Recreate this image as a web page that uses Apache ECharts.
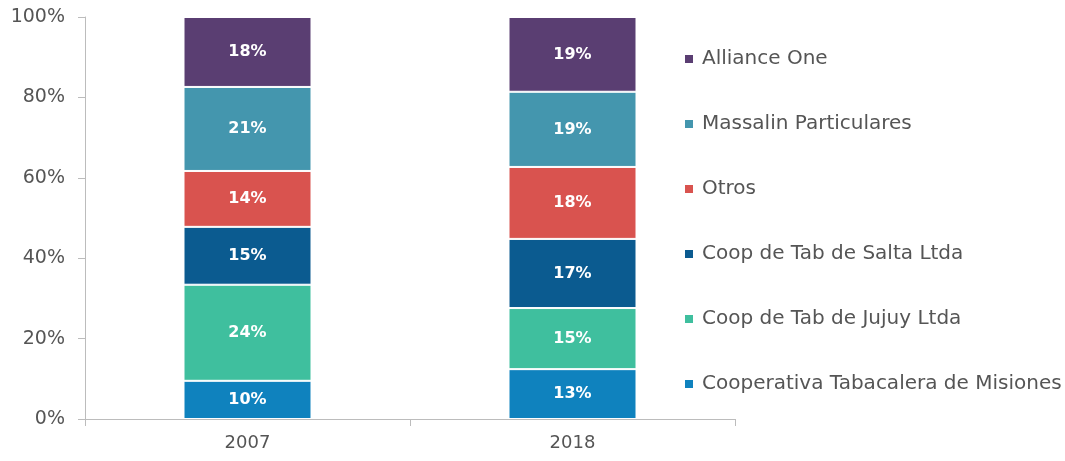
<!DOCTYPE html>
<html>
<head>
<meta charset="utf-8">
<script src="https://cdn.jsdelivr.net/npm/echarts@6/dist/echarts.min.js"></script>
<style>
  html, body { margin: 0; padding: 0; background: #fff; }
  #chart { width: 1065px; height: 461px; }
</style>
</head>
<body>
<div id="chart"></div>
<script>
// años
const years = ['2007', '2018']

// participación (%) por empresa, de abajo hacia arriba
const misiones = [9.5, 12.4]
const jujuy = [23.9, 15.2]
const salta = [14.4, 17.2]
const otros = [13.9, 17.9]
const massalin = [20.9, 18.7]
const alliance = [17.4, 18.6]

// etiquetas tal como aparecen en el gráfico
const misionesLabels = ['10%', '13%']
const jujuyLabels = ['24%', '15%']
const saltaLabels = ['15%', '17%']
const otrosLabels = ['14%', '18%']
const massalinLabels = ['21%', '19%']
const allianceLabels = ['18%', '19%']

const yTicks = [0, 20, 40, 60, 80, 100]

const stacks = [
  { name: 'Cooperativa Tabacalera de Misiones', data: misiones, labels: misionesLabels, color: '#0f82be' },
  { name: 'Coop de Tab de Jujuy Ltda', data: jujuy, labels: jujuyLabels, color: '#3fbf9e' },
  { name: 'Coop de Tab de Salta Ltda', data: salta, labels: saltaLabels, color: '#0b5b90' },
  { name: 'Otros', data: otros, labels: otrosLabels, color: '#d9534f' },
  { name: 'Massalin Particulares', data: massalin, labels: massalinLabels, color: '#4496ae' },
  { name: 'Alliance One', data: alliance, labels: allianceLabels, color: '#5a3e72' }
]

const font = '"DejaVu Sans", Roboto, sans-serif'

const chart = echarts.init(document.getElementById('chart'), null, { renderer: 'canvas' })

const option = {
  animation: false,
  textStyle: { fontFamily: font },
  grid: { left: 85, right: 330, top: 17, bottom: 42 },
  legend: {
    orient: 'vertical',
    left: 678,
    top: 44,
    itemGap: 45,
    itemWidth: 10,
    itemHeight: 10,
    icon: 'rect',
    data: stacks.map(s => s.name).reverse(),
    textStyle: { fontFamily: font, fontSize: 20, color: '#555', padding: [0, 0, 0, 3] }
  },
  xAxis: {
    type: 'category',
    data: years,
    axisLine: { lineStyle: { color: '#bcbcbc', width: 1 } },
    axisTick: { show: true, length: 7, lineStyle: { color: '#bcbcbc' } },
    axisLabel: { fontSize: 18, color: '#555', margin: 15, fontFamily: font }
  },
  yAxis: {
    type: 'value',
    min: yTicks[0],
    max: yTicks[yTicks.length - 1],
    interval: 20,
    axisLine: { show: true, lineStyle: { color: '#bcbcbc', width: 1 } },
    axisTick: { show: true, length: 7, lineStyle: { color: '#bcbcbc' } },
    splitLine: { show: false },
    axisLabel: { fontSize: 19, color: '#555', margin: 20, formatter: '{value}%', fontFamily: font }
  },
  series: stacks.map(s => ({
    name: s.name,
    type: 'bar',
    stack: 'total',
    barWidth: 128,
    data: s.data,
    itemStyle: { color: s.color, borderColor: '#fff', borderWidth: 1 },
    label: {
      show: true,
      position: 'inside',
      color: '#fff',
      fontSize: 16,
      fontWeight: 'bold',
      fontFamily: font,
      formatter: p => s.labels[p.dataIndex]
    }
  }))
}

chart.setOption(option)
</script>
</body>
</html>
